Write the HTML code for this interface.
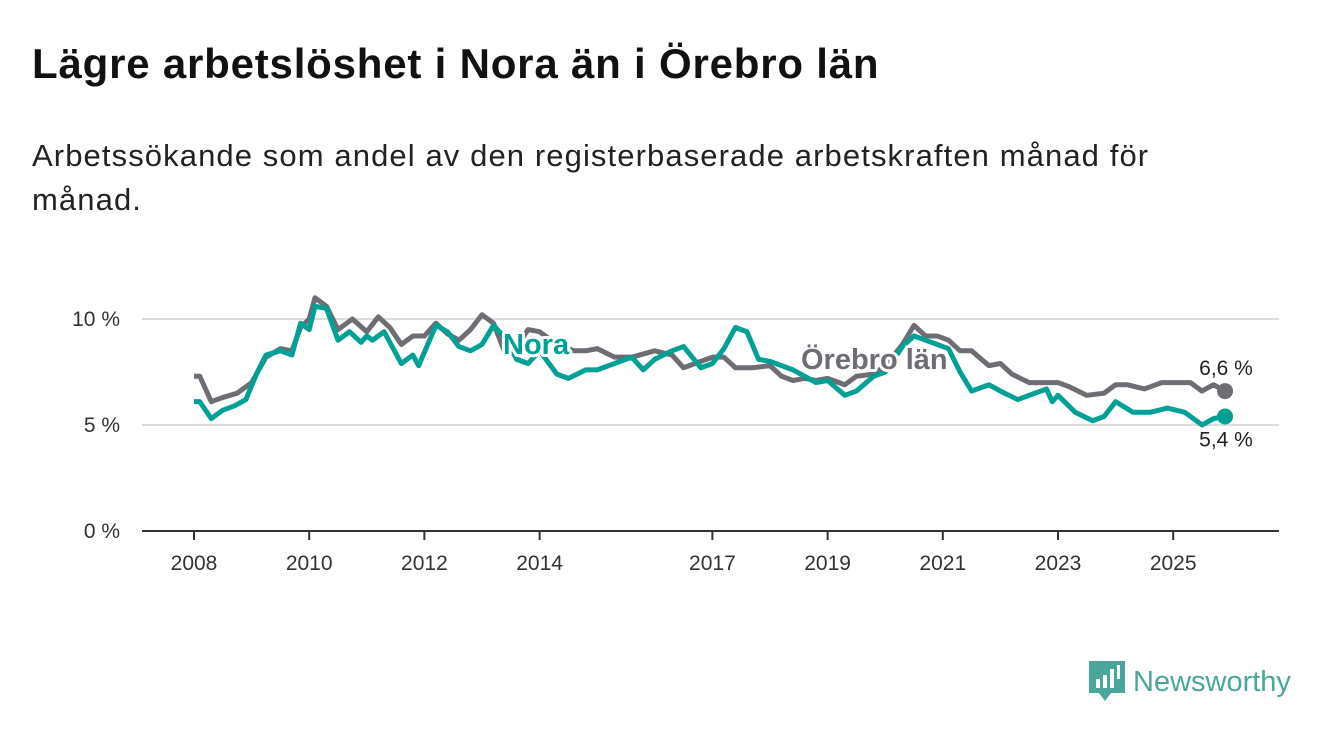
<!DOCTYPE html>
<html><head><meta charset="utf-8">
<style>
body{margin:0;background:#fff;font-family:"Liberation Sans","DejaVu Sans",sans-serif;}
#wrap{position:relative;width:1340px;height:734px;overflow:hidden;}
h1{position:absolute;left:32px;top:40px;margin:0;font-size:42px;font-weight:bold;color:#111;letter-spacing:0.8px;}
p.sub{position:absolute;left:32px;top:134px;margin:0;font-size:31px;line-height:44px;color:#222;width:1260px;letter-spacing:1.1px;}
svg{position:absolute;left:0;top:0;}
</style></head><body>
<div id="wrap">
<h1>Lägre arbetslöshet i Nora än i Örebro län</h1>
<p class="sub">Arbetssökande som andel av den registerbaserade arbetskraften månad för<br>månad.</p>
<svg id="chart" width="1340" height="734"></svg>
<div style="position:absolute;left:1089px;top:661px;display:flex;align-items:center;">
<svg width="36" height="42" style="position:static"><path d="M0 0h36v32H22l-6 8-6-8H0z" fill="#4aa59a"/><rect x="7" y="18" width="4" height="9" fill="#fff"/><rect x="14" y="14" width="4" height="13" fill="#fff"/><rect x="21" y="8" width="4" height="19" fill="#fff"/><rect x="28" y="4" width="3" height="14" fill="#fff"/></svg>
<span style="font-size:29px;color:#4aa59a;margin-left:8px;font-weight:500">Newsworthy</span></div>
</div>
<script>
const orebroDates=[2008.0,2008.1,2008.3,2008.5,2008.75,2009.0,2009.25,2009.5,2009.7,2009.85,2010.0,2010.1,2010.3,2010.5,2010.75,2011.0,2011.2,2011.4,2011.6,2011.8,2012.0,2012.2,2012.4,2012.6,2012.8,2013.0,2013.2,2013.4,2013.6,2013.8,2014.0,2014.3,2014.6,2014.8,2015.0,2015.3,2015.6,2016.0,2016.3,2016.5,2016.8,2017.0,2017.2,2017.4,2017.7,2018.0,2018.2,2018.4,2018.6,2018.8,2019.0,2019.3,2019.5,2019.8,2020.0,2020.3,2020.5,2020.7,2020.9,2021.1,2021.3,2021.5,2021.8,2022.0,2022.2,2022.5,2022.8,2023.0,2023.2,2023.5,2023.8,2024.0,2024.2,2024.5,2024.8,2025.0,2025.3,2025.5,2025.7,2025.9];
const orebroValues=[7.3,7.3,6.1,6.3,6.5,7.0,8.2,8.6,8.5,9.6,10.0,11.0,10.6,9.5,10.0,9.4,10.1,9.6,8.8,9.2,9.2,9.8,9.3,9.0,9.5,10.2,9.8,8.4,8.7,9.5,9.4,8.8,8.5,8.5,8.6,8.2,8.2,8.5,8.3,7.7,8.0,8.2,8.2,7.7,7.7,7.8,7.3,7.1,7.2,7.1,7.2,6.9,7.3,7.4,7.8,8.8,9.7,9.2,9.2,9.0,8.5,8.5,7.8,7.9,7.4,7.0,7.0,7.0,6.8,6.4,6.5,6.9,6.9,6.7,7.0,7.0,7.0,6.6,6.9,6.6];
const noraDates=[2008.0,2008.1,2008.3,2008.5,2008.7,2008.9,2009.1,2009.25,2009.5,2009.7,2009.85,2010.0,2010.1,2010.3,2010.5,2010.7,2010.9,2011.0,2011.1,2011.3,2011.6,2011.8,2011.9,2012.2,2012.4,2012.6,2012.8,2013.0,2013.2,2013.4,2013.6,2013.8,2014.0,2014.3,2014.5,2014.8,2015.0,2015.3,2015.6,2015.8,2016.0,2016.3,2016.5,2016.8,2017.0,2017.2,2017.4,2017.6,2017.8,2018.0,2018.2,2018.4,2018.6,2018.8,2019.0,2019.3,2019.5,2019.8,2020.0,2020.3,2020.5,2020.7,2020.9,2021.1,2021.3,2021.5,2021.8,2022.0,2022.3,2022.6,2022.8,2022.9,2023.0,2023.3,2023.6,2023.8,2024.0,2024.3,2024.6,2024.9,2025.2,2025.5,2025.7,2025.9];
const noraValues=[6.1,6.1,5.3,5.7,5.9,6.2,7.5,8.3,8.5,8.3,9.8,9.5,10.6,10.5,9.0,9.4,8.9,9.2,9.0,9.4,7.9,8.3,7.8,9.7,9.4,8.7,8.5,8.8,9.7,9.1,8.1,7.9,8.5,7.4,7.2,7.6,7.6,7.9,8.2,7.6,8.1,8.5,8.7,7.7,7.9,8.6,9.6,9.4,8.1,8.0,7.8,7.6,7.3,7.0,7.1,6.4,6.6,7.3,7.5,8.7,9.2,9.0,8.8,8.6,7.5,6.6,6.9,6.6,6.2,6.5,6.7,6.1,6.4,5.6,5.2,5.4,6.1,5.6,5.6,5.8,5.6,5.0,5.3,5.4];
const yTicks=[0,5,10];
const xTicks=[2008,2010,2012,2014,2017,2019,2021,2023,2025];
const NS='http://www.w3.org/2000/svg';
const svg=document.getElementById('chart');
const X=t=>194+(t-2008)*57.6;
const Y=v=>531-v*21.2;
function el(tag,attrs,parent){const e=document.createElementNS(NS,tag);for(const k in attrs)e.setAttribute(k,attrs[k]);(parent||svg).appendChild(e);return e;}
yTicks.forEach(v=>{
  const l=el('line',{x1:142,x2:1279,y1:Y(v),y2:Y(v),stroke:v===0?'#333':'#ddd','stroke-width':2});
  
  
  const t=el('text',{x:120,y:Y(v)+7,'text-anchor':'end','font-size':21,fill:'#333'});
  t.textContent=v+' %';
  
  
});
xTicks.forEach(yr=>{
  const l=el('line',{x1:X(yr),x2:X(yr),y1:531,y2:540,stroke:'#333','stroke-width':2});
  
  
  const t=el('text',{x:X(yr),y:570,'text-anchor':'middle','font-size':21,fill:'#333'});
  t.textContent=yr;
  
  
});
function line(d,v,color,name){
  const p=el('polyline',{points:d.map((t,i)=>X(t)+','+Y(v[i])).join(' '),fill:'none',stroke:color,'stroke-width':5,'stroke-linejoin':'round'});
  
  
  const c=el('circle',{cx:X(d[d.length-1]),cy:Y(v[v.length-1]),r:8,fill:color});
  
  
}
line(orebroDates,orebroValues,'#6e6d73','orebro-line');
line(noraDates,noraValues,'#00a195','nora-line');
function label(x,y,txt,color,name,size,bold,anchor){
  const a={x:x,y:y,'font-size':size,'font-weight':bold?'bold':'normal','text-anchor':anchor||'start'};
  const h=el('text',Object.assign({},a,{fill:'none',stroke:'#fff','stroke-width':6,'stroke-linejoin':'round'}));h.textContent=txt;
  
  
  const t=el('text',Object.assign({},a,{fill:color}));t.textContent=txt;
  
  
}
label(503,354,'Nora','#00a195','nora-label',29,true);
label(801,369,'Örebro län','#6e6d73','orebro-label',29,true);
const lo=orebroValues[orebroValues.length-1], ln=noraValues[noraValues.length-1];
label(1226,Y(lo)-16,String(lo).replace('.',',')+' %','#222','orebro-value-label',21,false,'middle');
label(1226,Y(ln)+30,String(ln).replace('.',',')+' %','#222','nora-value-label',21,false,'middle');
</script>
</body></html>
